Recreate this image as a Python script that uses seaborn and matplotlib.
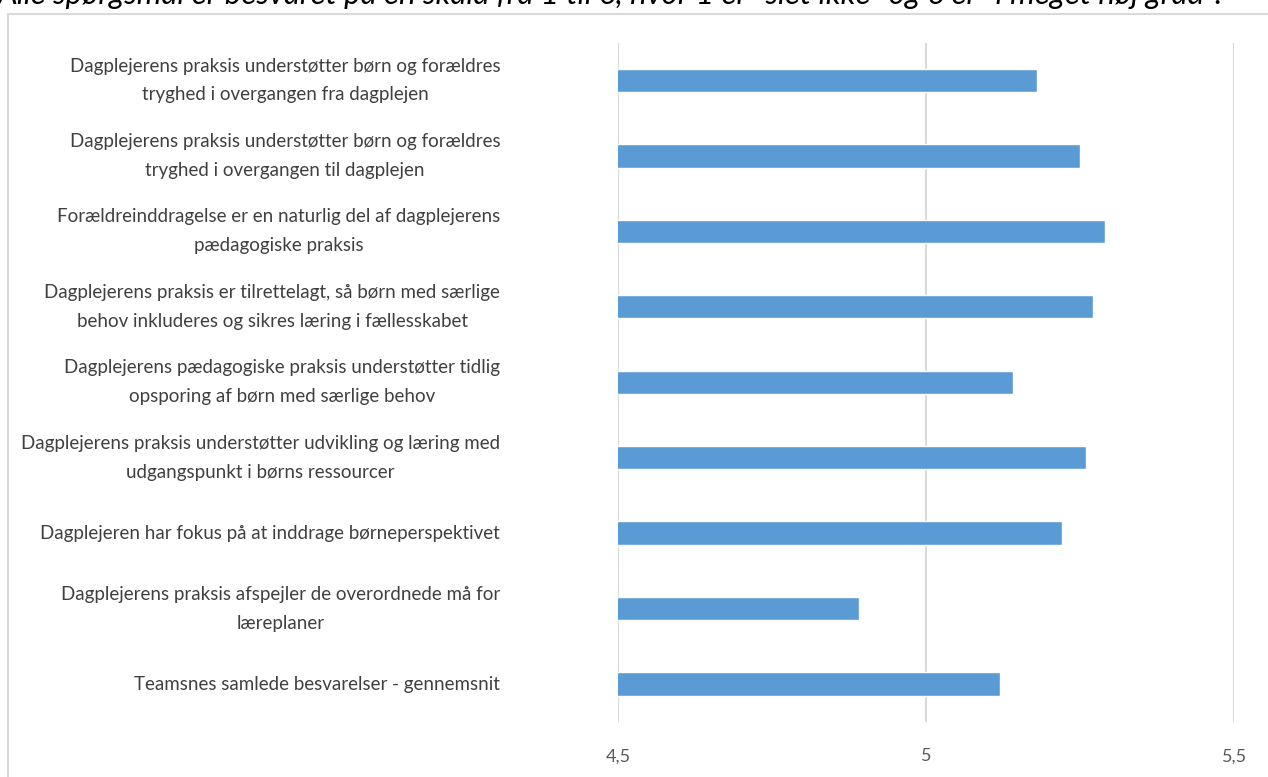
import matplotlib
matplotlib.use('Agg')
import matplotlib.pyplot as plt
import matplotlib.patches as mpatches
import pandas as pd
import seaborn as sns


# ==============================
# DATA
# ==============================
CATEGORIES = [
    "Dagplejerens praksis understøtter børn og forældres\ntryghed i overgangen fra dagplejen",
    "Dagplejerens praksis understøtter børn og forældres\ntryghed i overgangen til dagplejen",
    "Forældreinddragelse er en naturlig del af dagplejerens\npædagogiske praksis",
    "Dagplejerens praksis er tilrettelagt, så børn med særlige\nbehov inkluderes og sikres læring i fællesskabet",
    "Dagplejerens pædagogiske praksis understøtter tidlig\nopsporing af børn med særlige behov",
    "Dagplejerens praksis understøtter udvikling og læring med\nudgangspunkt i børns ressourcer",
    "Dagplejeren har fokus på at inddrage børneperspektivet",
    "Dagplejerens praksis afspejler de overordnede må for\nlæreplaner",
    "Teamsnes samlede besvarelser - gennemsnit",
]
SCORES = [5.18, 5.25, 5.29, 5.27, 5.14, 5.26, 5.22, 4.89, 5.12]

X_TICKS = [4.5, 5.0, 5.5]
X_TICK_LABELS = ["4,5", "5", "5,5"]

TITLE = ("Alle spørgsmål er besvaret på en skala fra 1 til 6, hvor 1 er "
         "\"slet ikke\" og 6 er \"i meget høj grad\".")

BAR_COLOR = "#5b9bd5"
GRID_COLOR = "#d9d9d9"


# ==============================
# PLOT
# ==============================
def main():
    sns.set_style("white")
    plt.rcParams['font.family'] = ['Lato', 'DejaVu Sans']

    df = pd.DataFrame({"label": CATEGORIES, "score": SCORES})

    fig = plt.figure(figsize=(12.68, 7.77), dpi=100)

    # outer chart frame (cut off at right and bottom)
    frame = mpatches.Rectangle((8 / 1268, -0.1), 1.2, 1.1 - 14 / 777,
                               transform=fig.transFigure, fill=False,
                               edgecolor=GRID_COLOR, linewidth=1.5)
    fig.patches.append(frame)

    # title line, cut off at the top like in the source screenshot
    fig.text(-0.002, 1 - 4 / 777, TITLE, fontsize=22.5, style='italic',
             ha='left', va='baseline', color='black')

    ax = fig.add_axes([618.3 / 1268, 1 - 721.75 / 777,
                       616 / 1268, (721.75 - 42.75) / 777])

    sns.barplot(data=df, x="score", y="label", orient="h", color=BAR_COLOR,
                width=0.31, saturation=1, ax=ax, zorder=3)

    ax.set_xlim(4.5, 5.5)
    ax.set_ylim(8.5, -0.5)
    ax.set_xticks(X_TICKS)
    ax.set_xticklabels(X_TICK_LABELS, fontsize=13, color="#595959")
    ax.tick_params(axis='x', length=0, pad=19)
    ax.tick_params(axis='y', length=0, pad=85)
    for t in ax.get_yticklabels():
        t.set_fontsize(13.5)
        t.set_color("#404040")
        t.set_multialignment('center')
        t.set_linespacing(1.85)
        t.set_verticalalignment('center')

    ax.xaxis.grid(True, color=GRID_COLOR, linewidth=1.5, zorder=0)
    ax.yaxis.grid(False)
    for s in ax.spines.values():
        s.set_visible(False)
    ax.set_xlabel("")
    ax.set_ylabel("")

    fig.savefig("out.png", dpi=100)


if __name__ == "__main__":
    main()
